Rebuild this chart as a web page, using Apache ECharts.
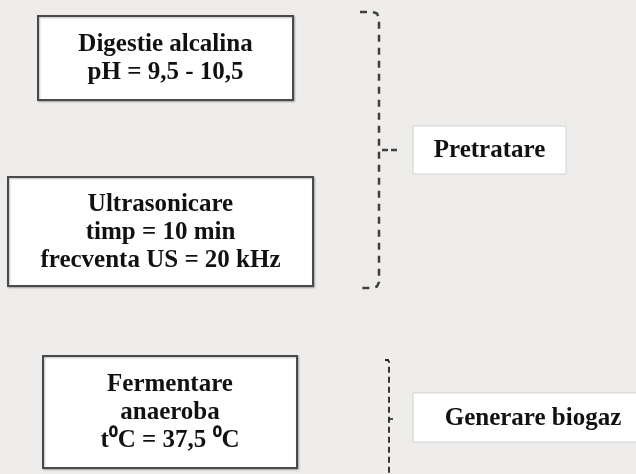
<!DOCTYPE html>
<html>
<head>
<meta charset="utf-8">
<script src="https://cdn.jsdelivr.net/npm/echarts@6/dist/echarts.min.js"></script>
<style>
html,body{margin:0;padding:0;background:#eeedeb;}
#chart{width:636px;height:474px;}
</style>
</head>
<body>
<div id="chart"></div>
<script>
// Diagram content
var box1Lines = ['Digestie alcalina', 'pH = 9,5 - 10,5'];
var box2Lines = ['Ultrasonicare', 'timp = 10 min', 'frecventa US = 20 kHz'];
var box3Lines = ['Fermentare', 'anaeroba', 't\u2070C = 37,5 \u2070C'];
var groupLabels = ['Pretratare', 'Generare biogaz'];

var FONT = 'bold 25px "Liberation Serif", "Times New Roman", serif';
var chart = echarts.init(document.getElementById('chart'), null, {renderer: 'canvas'});

function mainBox(x, y, w, h, lines) {
  return [
    {type: 'rect', shape: {x: x, y: y, width: w, height: h},
     style: {fill: '#ffffff', stroke: '#4a4a4a', lineWidth: 2,
             shadowBlur: 2, shadowColor: 'rgba(0,0,0,0.25)', shadowOffsetX: 1, shadowOffsetY: 1}},
    {type: 'text', style: {text: lines.join('\n'), x: x + w / 2, y: y + h / 2 + 1,
      font: FONT, fill: '#111', textAlign: 'center', textVerticalAlign: 'middle', lineHeight: 28}}
  ];
}
function labelBox(x, y, w, h, label) {
  return [
    {type: 'rect', shape: {x: x, y: y, width: w, height: h},
     style: {fill: '#ffffff', stroke: '#d2d2d2', lineWidth: 1}},
    {type: 'text', style: {text: label, x: x + w / 2, y: y + h / 2 + 1,
      font: FONT, fill: '#111', textAlign: 'center', textVerticalAlign: 'middle'}}
  ];
}

var elements = [];
elements = elements.concat(mainBox(38, 16, 255, 84, box1Lines));
elements = elements.concat(mainBox(8, 177, 305, 109, box2Lines));
elements = elements.concat(mainBox(43, 356, 254, 112, box3Lines));
elements = elements.concat(labelBox(413, 126, 153, 48, groupLabels[0]));
elements = elements.concat(labelBox(413, 393, 240, 49, groupLabels[1]));

// bracket 1
elements.push({type: 'polyline', shape: {points: [[360, 12], [373, 12], [377, 13.5], [379, 18], [379, 282], [377, 286.5], [373, 288], [360, 288]]},
  style: {fill: null, stroke: '#404040', lineWidth: 2.5, lineDash: [7, 6]}});
elements.push({type: 'line', shape: {x1: 382, y1: 150, x2: 400, y2: 150},
  style: {stroke: '#404040', lineWidth: 2.5, lineDash: [6, 3]}});
// bracket 2
elements.push({type: 'polyline', shape: {points: [[385, 360], [388, 360], [389, 362], [389, 480]]},
  style: {fill: null, stroke: '#222', lineWidth: 1.8, lineDash: [6, 4]}});
elements.push({type: 'line', shape: {x1: 389, y1: 419, x2: 393, y2: 419},
  style: {stroke: '#222', lineWidth: 1.6}});

chart.setOption({
  backgroundColor: '#eeedeb',
  animation: false,
  graphic: {elements: elements}
});
</script>
</body>
</html>
